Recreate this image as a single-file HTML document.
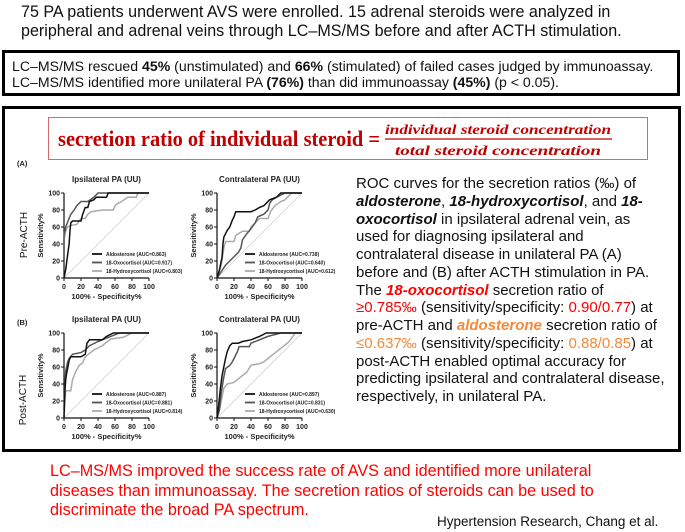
<!DOCTYPE html>
<html><head><meta charset="utf-8">
<style>
body{margin:0;width:685px;height:532px;background:#fff;position:relative;overflow:hidden;font-family:"Liberation Sans",Arial,sans-serif;}
.abs{position:absolute;white-space:nowrap;}
.red{color:#ff0000}
.org{color:#f5893a}
</style></head>
<body>
<div class="abs" style="left:21px;top:3px;font-size:16.5px;line-height:18.5px;color:#111;transform:scaleX(0.976);transform-origin:0 0">75 PA patients underwent AVS were enrolled. 15 adrenal steroids were analyzed in<br>peripheral and adrenal veins through LC–MS/MS before and after ACTH stimulation.</div>
<div class="abs" style="left:2px;top:50px;width:672px;height:40px;border:3px solid #000;"></div>
<div class="abs" style="left:12px;top:58px;font-size:14.1px;line-height:16px;color:#111">LC–MS/MS rescued <b>45%</b> (unstimulated) and <b>66%</b> (stimulated) of failed cases judged by immunoassay.<br>LC–MS/MS identified more unilateral PA <b>(76%)</b> than did immunoassay <b>(45%)</b> (p &lt; 0.05).</div>
<div class="abs" style="left:2px;top:106px;width:673px;height:340px;border:3px solid #000;"></div>
<div class="abs" style="left:48px;top:117px;width:598px;height:41px;border:1.5px solid #d46a6a;"></div>
<svg class="abs" style="left:0;top:0" width="685" height="532">
<text x="58" y="146" font-family="Liberation Serif,serif" font-weight="bold" font-size="22" fill="#c00000" textLength="322" lengthAdjust="spacingAndGlyphs">secretion ratio of individual steroid =</text>
<text x="498" y="134" text-anchor="middle" font-family="Liberation Serif,serif" font-weight="bold" font-style="italic" font-size="14" fill="#c00000" textLength="226" lengthAdjust="spacingAndGlyphs">individual steroid concentration</text>
<line x1="385" x2="612" y1="139" y2="139" stroke="#c00000" stroke-width="1.2"/>
<text x="498" y="155" text-anchor="middle" font-family="Liberation Serif,serif" font-weight="bold" font-style="italic" font-size="14" fill="#c00000" textLength="206" lengthAdjust="spacingAndGlyphs">total steroid concentration</text>
</svg>
<div class="abs" style="left:356px;top:175px;font-size:15px;line-height:17.75px;color:#111">ROC curves for the secretion ratios (‰) of<br><b><i>aldosterone</i></b>, <b><i>18-hydroxycortisol</i></b>, and <b><i>18-</i></b><br><b><i>oxocortisol</i></b> in ipsilateral adrenal vein, as<br>used for diagnosing ipsilateral and<br>contralateral disease in unilateral PA (A)<br>before and (B) after ACTH stimulation in PA.<br>The <b><i class="red">18-oxocortisol</i></b> secretion ratio of<br><span class="red">≥0.785‰</span> (sensitivity/specificity: <span class="red">0.90/0.77</span>) at<br>pre-ACTH and <b><i class="org">aldosterone</i></b> secretion ratio of<br><span class="org">≤0.637‰</span> (sensitivity/specificity: <span class="org">0.88/0.85</span>) at<br>post-ACTH enabled optimal accuracy for<br>predicting ipsilateral and contralateral disease,<br>respectively, in unilateral PA.</div>
<div class="abs red" style="left:50px;top:462px;font-size:16.2px;line-height:19.5px;">LC–MS/MS improved the success rate of AVS and identified more unilateral<br>diseases than immunoassay. The secretion ratios of steroids can be used to<br>discriminate the broad PA spectrum.</div>
<div class="abs" style="left:437px;top:514px;font-size:13.5px;color:#111">Hypertension Research, Chang et al.</div>

<svg id="roc" class="abs" style="left:0;top:0" width="685" height="532"></svg>
<script>
const ticks=[0,20,40,60,80,100];
const seriesNames=["Aldosterone","18-Oxocortisol","18-Hydroxycortisol"];
const panelTitles=["Ipsilateral PA (UU)","Contralateral PA (UU)","Ipsilateral PA (UU)","Contralateral PA (UU)"];
const aucA1=["0.863","0.917","0.803"];
const aucA2=["0.738","0.640","0.612"];
const aucB1=["0.887","0.881","0.814"];
const aucB2=["0.897","0.831","0.630"];
const a1Aldo=[[0,0],[2,10],[4,25],[6,40],[7,55],[8,65],[10,67],[20,67],[22,75],[25,83],[28,83],[30,90],[35,92],[38,95],[50,95],[52,100],[100,100]];
const a1Oxo=[[0,30],[0,50],[2,60],[4,65],[6,70],[8,75],[12,80],[15,85],[20,90],[28,90],[35,95],[40,100],[100,100]];
const a1Hyd=[[0,30],[0,45],[2,55],[4,60],[8,62],[15,63],[20,70],[25,70],[28,75],[32,78],[45,80],[58,80],[60,85],[62,87],[68,90],[75,95],[85,95],[87,100],[100,100]];
const a2Aldo=[[0,0],[3,10],[6,25],[7,40],[8,48],[10,52],[12,56],[15,60],[18,68],[20,72],[22,78],[40,78],[45,80],[50,83],[55,85],[58,88],[62,92],[70,95],[75,100],[100,100]];
const a2Oxo=[[0,0],[10,15],[20,25],[25,30],[28,35],[30,45],[35,52],[40,58],[45,65],[48,72],[55,75],[60,80],[62,88],[65,92],[70,95],[80,100],[100,100]];
const a2Hyd=[[0,0],[5,15],[8,35],[10,43],[20,43],[22,50],[30,55],[38,55],[40,60],[45,65],[50,70],[60,70],[63,78],[68,85],[75,90],[80,92],[85,97],[88,100],[100,100]];
const b1Aldo=[[0,0],[1,30],[2,45],[3,52],[5,62],[6,68],[8,72],[20,72],[25,75],[27,88],[30,92],[45,92],[50,96],[58,100],[100,100]];
const b1Oxo=[[0,10],[1,35],[2,55],[4,65],[6,70],[10,75],[20,77],[25,80],[30,85],[40,90],[55,96],[65,100],[100,100]];
const b1Hyd=[[0,0],[1,20],[2,32],[8,32],[10,45],[14,55],[18,62],[22,65],[25,72],[35,80],[45,85],[55,93],[70,95],[80,100],[100,100]];
const b2Aldo=[[0,0],[2,15],[4,35],[6,50],[8,60],[10,70],[12,78],[15,85],[18,88],[25,88],[30,90],[40,92],[50,96],[58,100],[100,100]];
const b2Oxo=[[0,0],[3,10],[5,30],[8,48],[10,58],[15,62],[18,66],[20,70],[24,78],[26,84],[38,84],[40,88],[50,92],[60,96],[75,100],[100,100]];
const b2Hyd=[[0,0],[3,10],[6,25],[8,35],[12,40],[20,42],[25,46],[30,50],[35,54],[40,62],[50,64],[55,66],[60,70],[65,74],[70,78],[75,82],[80,86],[85,90],[92,100],[100,100]];

const NS="http://www.w3.org/2000/svg";
const svg=document.getElementById('roc');
const colors=["#111","#555","#aaa"];
function mk(tag,attrs,parent){const e=document.createElementNS(NS,tag);for(const k in attrs)e.setAttribute(k,attrs[k]);(parent||svg).appendChild(e);return e;}
function txt(x,y,s,size,anchor,parent,extra){const t=mk('text',Object.assign({x:x,y:y,'font-size':size,'text-anchor':anchor||'start','font-family':'Liberation Sans,Arial,sans-serif','font-weight':'bold',fill:'#222'},extra||{}),parent);t.textContent=s;return t;}
function panel(name,x0,yTop,title,series,aucs){
  const W=85,H=85;
  const g=mk('g',{});
  
  
  const sx=v=>x0+v/100*W, sy=v=>yTop+H-v/100*H;
  const tt=txt(x0+W/2,yTop-11,title,8,'middle',g);
  
  
  mk('line',{x1:sx(0),y1:sy(0),x2:sx(100),y2:sy(100),stroke:'#ccc','stroke-width':0.7},g);
  mk('line',{x1:x0,y1:yTop,x2:x0,y2:yTop+H,stroke:'#111','stroke-width':1.2},g);
  mk('line',{x1:x0,y1:yTop+H,x2:x0+W,y2:yTop+H,stroke:'#111','stroke-width':1.2},g);
  ticks.forEach(t=>{
    mk('line',{x1:x0-3,x2:x0,y1:sy(t),y2:sy(t),stroke:'#111','stroke-width':1},g);
    txt(x0-4,sy(t)+2.5,String(t),7,'end',g);
    mk('line',{x1:sx(t),x2:sx(t),y1:yTop+H,y2:yTop+H+3,stroke:'#111','stroke-width':1},g);
    txt(sx(t),yTop+H+11,String(t),7,'middle',g);
  });
  const xl=txt(x0+W/2,yTop+H+21,'100% - Specificity%',7.5,'middle',g);
  
  
  const yl=txt(0,0,'Sensitivity%',7.5,'middle',g,{transform:`translate(${x0-21},${yTop+H/2}) rotate(-90)`});
  
  
  [2,1,0].forEach(i=>{
    const p=mk('polyline',{points:series[i].map(d=>sx(d[0])+','+sy(d[1])).join(' '),fill:'none',stroke:colors[i],'stroke-width':1.5},g);
    
    
  });
  seriesNames.forEach((n,i)=>{
    const ly=yTop+H-24+i*8.5;
    const l=mk('line',{x1:x0+28,x2:x0+38,y1:ly,y2:ly,stroke:colors[i],'stroke-width':1.8},g);
    
    
    const t=txt(x0+42,ly+2,n+' (AUC='+aucs[i]+')',5,'start',g);
    
    
  });
}
panel('roc-pre-ipsilateral',64,193,panelTitles[0],[a1Aldo,a1Oxo,a1Hyd],aucA1);
panel('roc-pre-contralateral',217,193,panelTitles[1],[a2Aldo,a2Oxo,a2Hyd],aucA2);
panel('roc-post-ipsilateral',64,333,panelTitles[2],[b1Aldo,b1Oxo,b1Hyd],aucB1);
panel('roc-post-contralateral',217,333,panelTitles[3],[b2Aldo,b2Oxo,b2Hyd],aucB2);
const la=txt(17,166,'(A)',7.5,'start');


const lb=txt(17,325,'(B)',7.5,'start');


const pre=txt(0,0,'Pre-ACTH',10,'middle',svg,{'font-weight':'normal',fill:'#111',transform:'translate(27,235) rotate(-90)'});


const post=txt(0,0,'Post-ACTH',10,'middle',svg,{'font-weight':'normal',fill:'#111',transform:'translate(26,400) rotate(-90)'});


</script>
</body></html>
